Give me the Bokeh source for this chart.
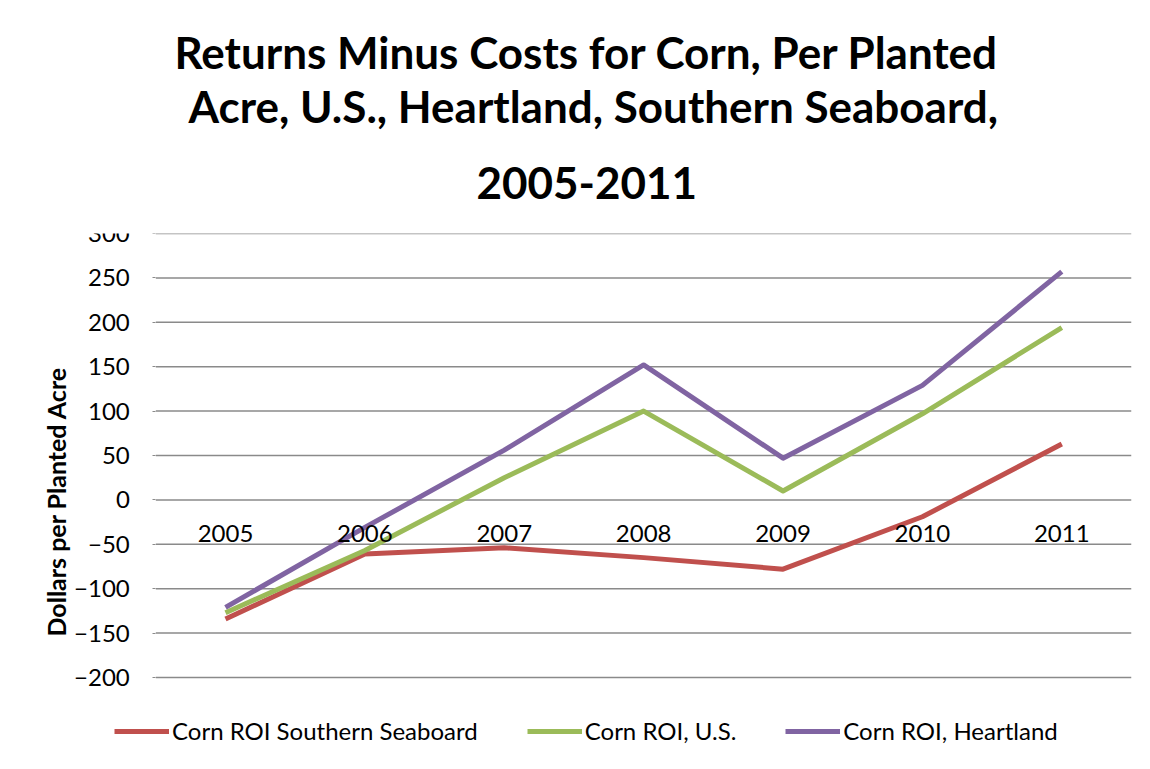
from bokeh.plotting import figure
from bokeh.models import (Title, Legend, LegendItem, FixedTicker, Range1d,
                          LinearAxis)
from bokeh.embed import file_html
from bokeh.resources import INLINE

years = ["2005", "2006", "2007", "2008", "2009", "2010", "2011"]
southern_seaboard = [-134, -61, -54, -65, -78, -19, 63]
us_total = [-127, -57, 25, 100, 10, 97, 194]
heartland = [-121, -31, 56, 152, 47, 129, 257]
y_ticks = [-200, -150, -100, -50, 0, 50, 100, 150, 200, 250, 300]
series_names = ["Corn ROI Southern Seaboard", "Corn ROI, U.S.", "Corn ROI, Heartland"]
series_colors = ["#C0504D", "#9BBB59", "#8064A2"]
title_lines = ["Returns Minus Costs for Corn, Per Planted",
               "Acre, U.S., Heartland, Southern Seaboard,",
               "2005-2011"]
y_label = "Dollars per Planted Acre"

FONT = "Lato"

# ---- layout geometry (pixels) ----
FRAME_LEFT, FRAME_RIGHT = 40, 1131       # frame extends left so axis texts and legend fit
FRAME_TOP, FRAME_BOTTOM = 233, 769
PLOT_LEFT = 155.3                        # where the category band starts
PLOT_BOTTOM = 677                        # pixel of the lowest gridline
n = len(years)
x_idx = list(range(n))
cat_lo, cat_hi = -0.5, n - 0.5
px_per_cat = (FRAME_RIGHT - PLOT_LEFT) / (cat_hi - cat_lo)
x_start = cat_lo - (PLOT_LEFT - FRAME_LEFT) / px_per_cat
y_lo, y_hi = min(y_ticks), max(y_ticks)
px_per_unit = (PLOT_BOTTOM - FRAME_TOP) / (y_hi - y_lo)
y_start = y_lo - (FRAME_BOTTOM - PLOT_BOTTOM) / px_per_unit

p = figure(frame_width=FRAME_RIGHT - FRAME_LEFT, frame_height=FRAME_BOTTOM - FRAME_TOP,
           x_range=Range1d(x_start, cat_hi),
           y_range=Range1d(y_start, y_hi),
           title=None, x_axis_location=None, y_axis_location=None,
           output_backend="svg", toolbar_location=None,
           min_border_left=FRAME_LEFT, min_border_right=1150 - FRAME_RIGHT,
           min_border_top=FRAME_TOP, min_border_bottom=0)

# first added title sits closest to the plot; left-aligned with offsets so
# the block is centred over the whole chart
title_offsets = [134, 148, 436]
title_standoffs = [4, -4, 70]
for line, off, so in reversed(list(zip(title_lines, title_offsets, title_standoffs))):
    p.add_layout(Title(text=line, align="left", text_font=FONT,
                       text_font_size="44px", text_font_style="bold",
                       text_color="black", offset=off, standoff=so), "above")

# category axis crossing at zero, labels drawn just below the zero line
xaxis = LinearAxis(fixed_location=0, ticker=FixedTicker(ticks=x_idx),
                   major_label_overrides={i: y for i, y in zip(x_idx, years)},
                   axis_line_color=None,
                   major_tick_line_color=None, minor_tick_line_color=None,
                   major_tick_out=0, major_tick_in=0,
                   major_label_standoff=-42,
                   major_label_text_font=FONT,
                   major_label_text_font_size="24px",
                   major_label_text_color="black")
p.add_layout(xaxis, "above")

# value axis pinned to the left edge of the category band (inside the frame)
yaxis = LinearAxis(fixed_location=cat_lo, ticker=FixedTicker(ticks=y_ticks),
                   axis_line_color=None,
                   major_tick_line_color="#8A8A8A", major_tick_in=0, major_tick_out=3,
                   minor_tick_line_color=None,
                   major_label_standoff=23,
                   major_label_text_font=FONT,
                   major_label_text_font_size="24px",
                   major_label_text_color="black",
                   axis_label=y_label, axis_label_text_font=FONT,
                   axis_label_text_font_size="25px",
                   axis_label_text_font_style="bold",
                   axis_label_text_color="black",
                   axis_label_standoff=0)
p.add_layout(yaxis, "left")

p.outline_line_color = None
p.background_fill_color = "white"
p.border_fill_color = "white"
p.xgrid.visible = False
p.ygrid.visible = False

# horizontal gridlines spanning the category band only
p.segment(x0=[cat_lo] * len(y_ticks), x1=[cat_hi] * len(y_ticks),
          y0=y_ticks, y1=y_ticks, line_color="#8A8A8A", line_width=1.5)

items = []
for name, vals, col in zip(series_names, [southern_seaboard, us_total, heartland], series_colors):
    r = p.line(x_idx, vals, line_color=col, line_width=5, line_join="round")
    items.append(LegendItem(label=name, renderers=[r]))

legend = Legend(items=items, orientation="horizontal", location=(114 - FRAME_LEFT, 24),
                border_line_color=None, background_fill_alpha=0,
                glyph_width=55, glyph_height=26, label_standoff=3, spacing=49,
                padding=0, margin=0,
                label_text_font=FONT, label_text_font_size="24px",
                label_text_color="black")
p.add_layout(legend, "center")

open("out.html", "w").write(file_html(p, INLINE))
